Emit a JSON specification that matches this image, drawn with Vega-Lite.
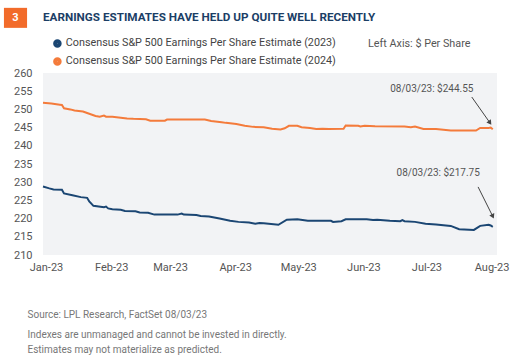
{
  "$schema": "https://vega.github.io/schema/vega-lite/v6.json",
  "width": 454,
  "height": 182,
  "autosize": {"type": "none"},
  "padding": {"left": 43, "top": 73, "right": 25, "bottom": 102},
  "background": "white",
  "config": {
    "view": {"fill": "#f2f3f5", "stroke": null},
    "font": "Roboto",
    "axisY": {"labelOverlap": false, "labelSeparation": 0, "labelBound": false, "labelLimit": 0}
  },
  "title": {
    "text": "EARNINGS ESTIMATES HAVE HELD UP QUITE WELL RECENTLY",
    "anchor": "start",
    "frame": "group",
    "font": "Roboto",
    "fontSize": 11.7,
    "fontWeight": "bold",
    "color": "#1b3e66",
    "offset": 0,
    "dy": 16
  },
  "datasets": {
    "eps": [
      {"series": "Consensus S&P 500 Earnings Per Share Estimate (2023)", "date": "2023-01-01", "value": 228.8},
      {"series": "Consensus S&P 500 Earnings Per Share Estimate (2023)", "date": "2023-01-04", "value": 228.3},
      {"series": "Consensus S&P 500 Earnings Per Share Estimate (2023)", "date": "2023-01-06", "value": 228.0},
      {"series": "Consensus S&P 500 Earnings Per Share Estimate (2023)", "date": "2023-01-10", "value": 227.9},
      {"series": "Consensus S&P 500 Earnings Per Share Estimate (2023)", "date": "2023-01-11", "value": 226.9},
      {"series": "Consensus S&P 500 Earnings Per Share Estimate (2023)", "date": "2023-01-15", "value": 226.4},
      {"series": "Consensus S&P 500 Earnings Per Share Estimate (2023)", "date": "2023-01-19", "value": 225.9},
      {"series": "Consensus S&P 500 Earnings Per Share Estimate (2023)", "date": "2023-01-22", "value": 225.7},
      {"series": "Consensus S&P 500 Earnings Per Share Estimate (2023)", "date": "2023-01-23", "value": 224.7},
      {"series": "Consensus S&P 500 Earnings Per Share Estimate (2023)", "date": "2023-01-25", "value": 223.5},
      {"series": "Consensus S&P 500 Earnings Per Share Estimate (2023)", "date": "2023-01-30", "value": 223.1},
      {"series": "Consensus S&P 500 Earnings Per Share Estimate (2023)", "date": "2023-01-31", "value": 223.3},
      {"series": "Consensus S&P 500 Earnings Per Share Estimate (2023)", "date": "2023-02-01", "value": 222.8},
      {"series": "Consensus S&P 500 Earnings Per Share Estimate (2023)", "date": "2023-02-03", "value": 222.6},
      {"series": "Consensus S&P 500 Earnings Per Share Estimate (2023)", "date": "2023-02-07", "value": 222.4},
      {"series": "Consensus S&P 500 Earnings Per Share Estimate (2023)", "date": "2023-02-09", "value": 222.1},
      {"series": "Consensus S&P 500 Earnings Per Share Estimate (2023)", "date": "2023-02-14", "value": 222.0},
      {"series": "Consensus S&P 500 Earnings Per Share Estimate (2023)", "date": "2023-02-16", "value": 221.7},
      {"series": "Consensus S&P 500 Earnings Per Share Estimate (2023)", "date": "2023-02-20", "value": 221.6},
      {"series": "Consensus S&P 500 Earnings Per Share Estimate (2023)", "date": "2023-02-23", "value": 221.1},
      {"series": "Consensus S&P 500 Earnings Per Share Estimate (2023)", "date": "2023-03-06", "value": 221.1},
      {"series": "Consensus S&P 500 Earnings Per Share Estimate (2023)", "date": "2023-03-08", "value": 221.4},
      {"series": "Consensus S&P 500 Earnings Per Share Estimate (2023)", "date": "2023-03-09", "value": 221.1},
      {"series": "Consensus S&P 500 Earnings Per Share Estimate (2023)", "date": "2023-03-15", "value": 221.0},
      {"series": "Consensus S&P 500 Earnings Per Share Estimate (2023)", "date": "2023-03-17", "value": 220.7},
      {"series": "Consensus S&P 500 Earnings Per Share Estimate (2023)", "date": "2023-03-21", "value": 220.6},
      {"series": "Consensus S&P 500 Earnings Per Share Estimate (2023)", "date": "2023-03-26", "value": 220.0},
      {"series": "Consensus S&P 500 Earnings Per Share Estimate (2023)", "date": "2023-03-31", "value": 219.4},
      {"series": "Consensus S&P 500 Earnings Per Share Estimate (2023)", "date": "2023-04-04", "value": 219.1},
      {"series": "Consensus S&P 500 Earnings Per Share Estimate (2023)", "date": "2023-04-09", "value": 218.9},
      {"series": "Consensus S&P 500 Earnings Per Share Estimate (2023)", "date": "2023-04-12", "value": 218.6},
      {"series": "Consensus S&P 500 Earnings Per Share Estimate (2023)", "date": "2023-04-14", "value": 218.8},
      {"series": "Consensus S&P 500 Earnings Per Share Estimate (2023)", "date": "2023-04-16", "value": 218.7},
      {"series": "Consensus S&P 500 Earnings Per Share Estimate (2023)", "date": "2023-04-23", "value": 218.3},
      {"series": "Consensus S&P 500 Earnings Per Share Estimate (2023)", "date": "2023-04-27", "value": 219.7},
      {"series": "Consensus S&P 500 Earnings Per Share Estimate (2023)", "date": "2023-05-02", "value": 219.8},
      {"series": "Consensus S&P 500 Earnings Per Share Estimate (2023)", "date": "2023-05-07", "value": 219.4},
      {"series": "Consensus S&P 500 Earnings Per Share Estimate (2023)", "date": "2023-05-18", "value": 219.4},
      {"series": "Consensus S&P 500 Earnings Per Share Estimate (2023)", "date": "2023-05-19", "value": 219.1},
      {"series": "Consensus S&P 500 Earnings Per Share Estimate (2023)", "date": "2023-05-23", "value": 219.3},
      {"series": "Consensus S&P 500 Earnings Per Share Estimate (2023)", "date": "2023-05-25", "value": 219.8},
      {"series": "Consensus S&P 500 Earnings Per Share Estimate (2023)", "date": "2023-06-04", "value": 219.8},
      {"series": "Consensus S&P 500 Earnings Per Share Estimate (2023)", "date": "2023-06-07", "value": 219.6},
      {"series": "Consensus S&P 500 Earnings Per Share Estimate (2023)", "date": "2023-06-09", "value": 219.7},
      {"series": "Consensus S&P 500 Earnings Per Share Estimate (2023)", "date": "2023-06-15", "value": 219.4},
      {"series": "Consensus S&P 500 Earnings Per Share Estimate (2023)", "date": "2023-06-20", "value": 219.3},
      {"series": "Consensus S&P 500 Earnings Per Share Estimate (2023)", "date": "2023-06-21", "value": 219.6},
      {"series": "Consensus S&P 500 Earnings Per Share Estimate (2023)", "date": "2023-06-22", "value": 219.3},
      {"series": "Consensus S&P 500 Earnings Per Share Estimate (2023)", "date": "2023-06-27", "value": 219.1},
      {"series": "Consensus S&P 500 Earnings Per Share Estimate (2023)", "date": "2023-07-02", "value": 218.6},
      {"series": "Consensus S&P 500 Earnings Per Share Estimate (2023)", "date": "2023-07-07", "value": 218.4},
      {"series": "Consensus S&P 500 Earnings Per Share Estimate (2023)", "date": "2023-07-14", "value": 218.0},
      {"series": "Consensus S&P 500 Earnings Per Share Estimate (2023)", "date": "2023-07-18", "value": 217.1},
      {"series": "Consensus S&P 500 Earnings Per Share Estimate (2023)", "date": "2023-07-25", "value": 216.9},
      {"series": "Consensus S&P 500 Earnings Per Share Estimate (2023)", "date": "2023-07-28", "value": 218.0},
      {"series": "Consensus S&P 500 Earnings Per Share Estimate (2023)", "date": "2023-08-01", "value": 218.3},
      {"series": "Consensus S&P 500 Earnings Per Share Estimate (2023)", "date": "2023-08-02", "value": 218.1},
      {"series": "Consensus S&P 500 Earnings Per Share Estimate (2023)", "date": "2023-08-03", "value": 217.75},
      {"series": "Consensus S&P 500 Earnings Per Share Estimate (2024)", "date": "2023-01-01", "value": 251.8},
      {"series": "Consensus S&P 500 Earnings Per Share Estimate (2024)", "date": "2023-01-05", "value": 251.6},
      {"series": "Consensus S&P 500 Earnings Per Share Estimate (2024)", "date": "2023-01-09", "value": 251.3},
      {"series": "Consensus S&P 500 Earnings Per Share Estimate (2024)", "date": "2023-01-10", "value": 251.2},
      {"series": "Consensus S&P 500 Earnings Per Share Estimate (2024)", "date": "2023-01-11", "value": 250.3},
      {"series": "Consensus S&P 500 Earnings Per Share Estimate (2024)", "date": "2023-01-14", "value": 250.0},
      {"series": "Consensus S&P 500 Earnings Per Share Estimate (2024)", "date": "2023-01-16", "value": 249.7},
      {"series": "Consensus S&P 500 Earnings Per Share Estimate (2024)", "date": "2023-01-20", "value": 249.4},
      {"series": "Consensus S&P 500 Earnings Per Share Estimate (2024)", "date": "2023-01-21", "value": 249.2},
      {"series": "Consensus S&P 500 Earnings Per Share Estimate (2024)", "date": "2023-01-24", "value": 248.6},
      {"series": "Consensus S&P 500 Earnings Per Share Estimate (2024)", "date": "2023-01-26", "value": 248.2},
      {"series": "Consensus S&P 500 Earnings Per Share Estimate (2024)", "date": "2023-01-28", "value": 248.0},
      {"series": "Consensus S&P 500 Earnings Per Share Estimate (2024)", "date": "2023-01-30", "value": 248.3},
      {"series": "Consensus S&P 500 Earnings Per Share Estimate (2024)", "date": "2023-01-31", "value": 248.0},
      {"series": "Consensus S&P 500 Earnings Per Share Estimate (2024)", "date": "2023-02-03", "value": 248.0},
      {"series": "Consensus S&P 500 Earnings Per Share Estimate (2024)", "date": "2023-02-06", "value": 247.8},
      {"series": "Consensus S&P 500 Earnings Per Share Estimate (2024)", "date": "2023-02-10", "value": 247.5},
      {"series": "Consensus S&P 500 Earnings Per Share Estimate (2024)", "date": "2023-02-13", "value": 247.4},
      {"series": "Consensus S&P 500 Earnings Per Share Estimate (2024)", "date": "2023-02-19", "value": 247.3},
      {"series": "Consensus S&P 500 Earnings Per Share Estimate (2024)", "date": "2023-02-21", "value": 246.9},
      {"series": "Consensus S&P 500 Earnings Per Share Estimate (2024)", "date": "2023-02-28", "value": 246.9},
      {"series": "Consensus S&P 500 Earnings Per Share Estimate (2024)", "date": "2023-03-01", "value": 247.2},
      {"series": "Consensus S&P 500 Earnings Per Share Estimate (2024)", "date": "2023-03-19", "value": 247.2},
      {"series": "Consensus S&P 500 Earnings Per Share Estimate (2024)", "date": "2023-03-22", "value": 246.8},
      {"series": "Consensus S&P 500 Earnings Per Share Estimate (2024)", "date": "2023-03-27", "value": 246.5},
      {"series": "Consensus S&P 500 Earnings Per Share Estimate (2024)", "date": "2023-03-29", "value": 246.3},
      {"series": "Consensus S&P 500 Earnings Per Share Estimate (2024)", "date": "2023-04-03", "value": 246.0},
      {"series": "Consensus S&P 500 Earnings Per Share Estimate (2024)", "date": "2023-04-07", "value": 245.5},
      {"series": "Consensus S&P 500 Earnings Per Share Estimate (2024)", "date": "2023-04-11", "value": 245.2},
      {"series": "Consensus S&P 500 Earnings Per Share Estimate (2024)", "date": "2023-04-16", "value": 245.1},
      {"series": "Consensus S&P 500 Earnings Per Share Estimate (2024)", "date": "2023-04-20", "value": 244.7},
      {"series": "Consensus S&P 500 Earnings Per Share Estimate (2024)", "date": "2023-04-24", "value": 244.5},
      {"series": "Consensus S&P 500 Earnings Per Share Estimate (2024)", "date": "2023-04-26", "value": 244.8},
      {"series": "Consensus S&P 500 Earnings Per Share Estimate (2024)", "date": "2023-04-28", "value": 245.5},
      {"series": "Consensus S&P 500 Earnings Per Share Estimate (2024)", "date": "2023-05-02", "value": 245.5},
      {"series": "Consensus S&P 500 Earnings Per Share Estimate (2024)", "date": "2023-05-04", "value": 245.1},
      {"series": "Consensus S&P 500 Earnings Per Share Estimate (2024)", "date": "2023-05-08", "value": 244.9},
      {"series": "Consensus S&P 500 Earnings Per Share Estimate (2024)", "date": "2023-05-11", "value": 244.6},
      {"series": "Consensus S&P 500 Earnings Per Share Estimate (2024)", "date": "2023-05-14", "value": 244.7},
      {"series": "Consensus S&P 500 Earnings Per Share Estimate (2024)", "date": "2023-05-17", "value": 244.6},
      {"series": "Consensus S&P 500 Earnings Per Share Estimate (2024)", "date": "2023-05-24", "value": 244.7},
      {"series": "Consensus S&P 500 Earnings Per Share Estimate (2024)", "date": "2023-05-25", "value": 245.6},
      {"series": "Consensus S&P 500 Earnings Per Share Estimate (2024)", "date": "2023-05-31", "value": 245.5},
      {"series": "Consensus S&P 500 Earnings Per Share Estimate (2024)", "date": "2023-06-01", "value": 245.3},
      {"series": "Consensus S&P 500 Earnings Per Share Estimate (2024)", "date": "2023-06-03", "value": 245.5},
      {"series": "Consensus S&P 500 Earnings Per Share Estimate (2024)", "date": "2023-06-08", "value": 245.4},
      {"series": "Consensus S&P 500 Earnings Per Share Estimate (2024)", "date": "2023-06-22", "value": 245.3},
      {"series": "Consensus S&P 500 Earnings Per Share Estimate (2024)", "date": "2023-06-25", "value": 245.1},
      {"series": "Consensus S&P 500 Earnings Per Share Estimate (2024)", "date": "2023-06-27", "value": 245.3},
      {"series": "Consensus S&P 500 Earnings Per Share Estimate (2024)", "date": "2023-07-01", "value": 244.6},
      {"series": "Consensus S&P 500 Earnings Per Share Estimate (2024)", "date": "2023-07-07", "value": 244.6},
      {"series": "Consensus S&P 500 Earnings Per Share Estimate (2024)", "date": "2023-07-14", "value": 244.2},
      {"series": "Consensus S&P 500 Earnings Per Share Estimate (2024)", "date": "2023-07-26", "value": 244.2},
      {"series": "Consensus S&P 500 Earnings Per Share Estimate (2024)", "date": "2023-07-28", "value": 244.9},
      {"series": "Consensus S&P 500 Earnings Per Share Estimate (2024)", "date": "2023-08-01", "value": 244.9},
      {"series": "Consensus S&P 500 Earnings Per Share Estimate (2024)", "date": "2023-08-02", "value": 245.0},
      {"series": "Consensus S&P 500 Earnings Per Share Estimate (2024)", "date": "2023-08-03", "value": 244.55}
    ],
    "notes": [
      {"label": "08/03/23: $244.55", "date": "2023-07-05", "value": 255.6},
      {"label": "08/03/23: $217.75", "date": "2023-07-08", "value": 232.4}
    ],
    "arrows": [
      {"id": "a", "date": "2023-07-24", "value": 253.4, "date2": "2023-08-01T16:00:00Z", "value2": 246.3},
      {"id": "b", "date": "2023-07-27", "value": 228.7, "date2": "2023-08-03", "value2": 220.6}
    ],
    "badge": [
      {"label": "3", "date": "2022-12-13T10:00:00Z", "date2": "2022-12-24T10:00:00Z", "mid": "2022-12-18T22:00:00Z", "value": 277.9, "value2": 272.4, "vmid": 275.1}
    ]
  },
  "layer": [
    {
      "data": {"name": "eps"},
      "mark": {"type": "line", "strokeWidth": 2, "interpolate": "linear"},
      "encoding": {
        "x": {
          "field": "date",
          "type": "temporal",
          "scale": {"type": "utc", "domain": [{"year": 2023, "month": 1, "date": 1, "utc": true}, {"year": 2023, "month": 8, "date": 5, "utc": true}]},
          "axis": {
            "title": ["Indexes are unmanaged and cannot be invested in directly.", "Estimates may not materialize as predicted."],
            "titleX": -16,
            "titleY": 82,
            "titleAlign": "left",
            "titleBaseline": "alphabetic",
            "titleLineHeight": 15,
            "titleFont": "Roboto",
            "titleFontSize": 10,
            "titleFontWeight": "normal",
            "titleColor": "#777777",
            "values": [
              {"year": 2023, "month": 1, "date": 1, "utc": true},
              {"year": 2023, "month": 2, "date": 1, "utc": true},
              {"year": 2023, "month": 3, "date": 1, "utc": true},
              {"year": 2023, "month": 4, "date": 1, "utc": true},
              {"year": 2023, "month": 5, "date": 1, "utc": true},
              {"year": 2023, "month": 6, "date": 1, "utc": true},
              {"year": 2023, "month": 7, "date": 1, "utc": true},
              {"year": 2023, "month": 8, "date": 1, "utc": true}
            ],
            "format": "%b-%y",
            "grid": false,
            "domain": false,
            "ticks": false,
            "labelPadding": 6,
            "labelOffset": 3,
            "labelFont": "Roboto",
            "labelFontSize": 11,
            "labelColor": "#555555",
            "labelFlush": false,
            "labelOverlap": false
          }
        },
        "y": {
          "field": "value",
          "type": "quantitative",
          "scale": {"domain": [210, 260], "nice": false, "zero": false},
          "axis": {
            "title": "Source: LPL Research, FactSet  08/03/23",
            "titleAngle": 0,
            "titleX": -16,
            "titleY": 244,
            "titleAlign": "left",
            "titleBaseline": "alphabetic",
            "titleFont": "Roboto",
            "titleFontSize": 10,
            "titleFontWeight": "normal",
            "titleColor": "#777777",
            "values": [210, 215, 220, 225, 230, 235, 240, 245, 250, 255, 260],
            "tickCount": 11,
            "grid": false,
            "domain": false,
            "ticks": false,
            "labelPadding": 11,
            "labelFont": "Roboto",
            "labelFontSize": 11,
            "labelColor": "#555555",
            "labelFlush": false,
            "labelOverlap": false
          }
        },
        "color": {
          "field": "series",
          "type": "nominal",
          "scale": {
            "domain": ["Consensus S&P 500 Earnings Per Share Estimate (2023)", "Consensus S&P 500 Earnings Per Share Estimate (2024)"],
            "range": ["#1b4673", "#f47b3b"]
          },
          "legend": {
            "orient": "none",
            "legendX": 9,
            "legendY": -35,
            "direction": "vertical",
            "padding": 0,
            "title": "Left Axis: $ Per Share",
            "titleOrient": "right",
            "titleAnchor": "start",
            "titleAngle": 0,
            "titleAlign": "left",
            "titleBaseline": "top",
            "titlePadding": 32,
            "titleFont": "Roboto",
            "titleFontSize": 10.8,
            "titleFontWeight": "normal",
            "titleColor": "#555555",
            "labelFont": "Roboto",
            "labelFontSize": 10.8,
            "labelColor": "#444444",
            "labelLimit": 400,
            "symbolType": "circle",
            "symbolSize": 16,
            "symbolStrokeWidth": 4.5,
            "symbolOffset": 0,
            "labelOffset": 3,
            "rowPadding": -5
          }
        }
      }
    },
    {
      "data": {"name": "notes"},
      "mark": {"type": "text", "font": "Roboto", "fontSize": 10, "color": "#555555", "align": "center", "baseline": "middle"},
      "encoding": {
        "x": {"field": "date", "type": "temporal"},
        "y": {"field": "value", "type": "quantitative"},
        "text": {"field": "label"}
      }
    },
    {
      "data": {"name": "arrows"},
      "mark": {"type": "rule", "color": "#444444", "strokeWidth": 1},
      "encoding": {
        "x": {"field": "date", "type": "temporal"},
        "y": {"field": "value", "type": "quantitative"},
        "x2": {"field": "date2"},
        "y2": {"field": "value2"}
      }
    },
    {
      "data": {"name": "arrows"},
      "transform": [{"filter": "datum.id == 'a'"}],
      "mark": {"type": "point", "shape": "triangle-down", "filled": true, "color": "#444444", "size": 30, "angle": -35, "opacity": 1},
      "encoding": {
        "x": {"field": "date2", "type": "temporal"},
        "y": {"field": "value2", "type": "quantitative"}
      }
    },
    {
      "data": {"name": "arrows"},
      "transform": [{"filter": "datum.id == 'b'"}],
      "mark": {"type": "point", "shape": "triangle-down", "filled": true, "color": "#444444", "size": 30, "angle": -25, "opacity": 1},
      "encoding": {
        "x": {"field": "date2", "type": "temporal"},
        "y": {"field": "value2", "type": "quantitative"}
      }
    },
    {
      "data": {"name": "badge"},
      "mark": {"type": "rect", "color": "#f26b2a", "clip": false},
      "encoding": {
        "x": {"field": "date", "type": "temporal"},
        "x2": {"field": "date2"},
        "y": {"field": "value", "type": "quantitative"},
        "y2": {"field": "value2"}
      }
    },
    {
      "data": {"name": "badge"},
      "mark": {"type": "text", "font": "Roboto", "fontSize": 11, "fontWeight": "bold", "color": "white", "align": "center", "baseline": "middle", "clip": false},
      "encoding": {
        "x": {"field": "mid", "type": "temporal"},
        "y": {"field": "vmid", "type": "quantitative"},
        "text": {"field": "label"}
      }
    }
  ]
}
